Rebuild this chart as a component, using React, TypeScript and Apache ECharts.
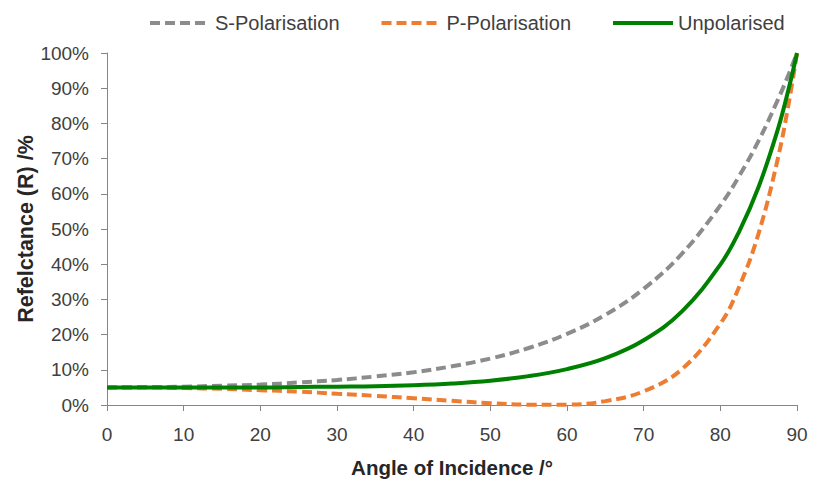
import React, { useEffect, useRef } from "react";
import * as echarts from "echarts";

const angles = [0, 5, 10, 15, 20, 25, 30, 35, 40, 45, 50, 55, 60, 65, 70, 75, 80, 82.5, 85, 87.5, 89, 90];
const sPolarisation = [5.0, 5.1, 5.2, 5.5, 5.8, 6.4, 7.1, 8.1, 9.3, 11.0, 13.2, 16.2, 20.2, 25.6, 33.0, 43.0, 56.7, 65.2, 75.1, 86.7, 94.4, 100];
const pPolarisation = [5.0, 5.0, 4.8, 4.6, 4.2, 3.8, 3.2, 2.6, 1.9, 1.2, 0.5, 0.1, 0.1, 1.1, 3.9, 10.2, 23.1, 33.8, 48.8, 70.0, 86.7, 100];
const unpolarised = [5.0, 5.0, 5.0, 5.0, 5.0, 5.1, 5.2, 5.3, 5.6, 6.1, 6.9, 8.2, 10.2, 13.3, 18.4, 26.6, 39.9, 49.5, 62.0, 78.3, 90.6, 100];
const seriesNames = ["S-Polarisation", "P-Polarisation", "Unpolarised"];
const xTitle = "Angle of Incidence /°";
const yTitle = "Refelctance (R) /%";

const FONT = "'Liberation Sans', Arial, sans-serif";

export default function App() {
  const ref = useRef<HTMLDivElement>(null);
  useEffect(() => {
    if (!ref.current) return;
    const chart = echarts.init(ref.current, undefined, { renderer: "svg" });
    const pair = (vals: number[]) => angles.map((a, i) => [a, vals[i]]);
    const axisLineStyle = { color: "#868686", width: 1 };
    chart.setOption({
      animation: false,
      textStyle: { fontFamily: FONT },
      legend: {
        top: 8,
        left: 143,
        itemWidth: 60,
        itemHeight: 4,
        itemGap: 40,
        lineStyle: { width: 4 },
        itemStyle: { opacity: 0 },
        textStyle: { fontFamily: FONT, fontSize: 20, color: "#404040" },
        data: seriesNames,
      },
      grid: { left: 107, right: 16, top: 53, bottom: 75 },
      xAxis: {
        type: "value",
        min: 0,
        max: 90,
        interval: 10,
        name: xTitle,
        nameLocation: "middle",
        nameGap: 52,
        nameMoveOverlap: false,
        nameTextStyle: { fontFamily: FONT, fontSize: 20.5, fontWeight: "bold", color: "#262626" },
        axisLine: { lineStyle: axisLineStyle },
        axisTick: { show: true, length: 6, lineStyle: axisLineStyle },
        splitLine: { show: false },
        axisLabel: { fontFamily: FONT, fontSize: 19, color: "#404040", margin: 20 },
      },
      yAxis: {
        type: "value",
        min: 0,
        max: 100,
        interval: 10,
        name: yTitle,
        nameLocation: "middle",
        nameGap: 70,
        nameMoveOverlap: false,
        nameRotate: 90,
        nameTextStyle: { fontFamily: FONT, fontSize: 21.5, fontWeight: "bold", color: "#262626" },
        axisLine: { show: true, lineStyle: axisLineStyle },
        axisTick: { show: true, length: 6, lineStyle: axisLineStyle },
        splitLine: { show: false },
        axisLabel: { fontFamily: FONT, fontSize: 19, color: "#404040", margin: 18, formatter: "{value}%" },
      },
      series: [
        {
          name: seriesNames[0],
          type: "line",
          data: pair(sPolarisation),
          smooth: 0.4,
          symbol: "none",
          lineStyle: { color: "#8C8C8C", width: 4, type: [10, 5] },
          itemStyle: { color: "#8C8C8C" },
        },
        {
          name: seriesNames[1],
          type: "line",
          data: pair(pPolarisation),
          smooth: 0.4,
          symbol: "none",
          lineStyle: { color: "#ED7D31", width: 4, type: [10, 5] },
          itemStyle: { color: "#ED7D31" },
        },
        {
          name: seriesNames[2],
          type: "line",
          data: pair(unpolarised),
          smooth: 0.4,
          symbol: "none",
          lineStyle: { color: "#008000", width: 4 },
          itemStyle: { color: "#008000" },
        },
      ],
    });
    return () => chart.dispose();
  }, []);
  return <div ref={ref} style={{ position: "absolute", left: 0, top: 0, width: 813, height: 483 }} />;
}
